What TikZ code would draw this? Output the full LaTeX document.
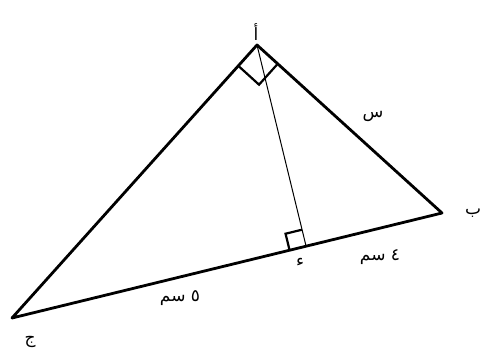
\documentclass[tikz,border=0pt]{standalone}
\usepackage{fontspec}
\newfontfamily\arabicfont[Script=Arabic]{DejaVu Sans}
\TeXXeTstate=1
\usetikzlibrary{calc}
\begin{document}
\begin{tikzpicture}[x=1pt,y=-1pt,
  side/.style={line width=2.8pt,line join=round,line cap=round},
  alt/.style={line width=1pt},
  rtmark/.style={line width=2.2pt,line join=miter},
  lbl/.style={font=\arabicfont\fontsize{17}{20}\selectfont,inner sep=0pt}]
\useasboundingbox (0,0) rectangle (486,356);
\coordinate (A) at (257,45);
\coordinate (B) at (442,213);
\coordinate (J) at (12,318);
\coordinate (D) at ($(J)!(A)!(B)$);
% right angle at A
\coordinate (A1) at ($(A)!28pt!(J)$);
\coordinate (A2) at ($(A)!28pt!(B)$);
\coordinate (A3) at ($(A1)+(A2)-(A)$);
\draw[rtmark] (A1) -- (A3) -- (A2);
% right angle at D
\coordinate (D1) at ($(D)!17pt!(J)$);
\coordinate (D2) at ($(D)!17pt!(A)$);
\coordinate (D3) at ($(D1)+(D2)-(D)$);
\draw[rtmark] (D1) -- (D3) -- (D2);
\draw[alt] (A) -- (D);
\draw[side] (A) -- (B) -- (J) -- cycle;
\node[lbl] (la) at (256,32) {\beginR أ\endR};
\node[lbl] (lb) at (473,213) {\beginR ب\endR};
\node[lbl] (lj) at (30,342) {\beginR ج\endR};
\node[lbl] (ld) at (300,262) {\beginR ء\endR};
\node[lbl] (ls) at (373,116) {\beginR س\endR};
\node[lbl] (l4) at (380,257) {\beginR ٤ سم\endR};
\node[lbl] (l5) at (180,298) {\beginR ٥ سم\endR};
\end{tikzpicture}
\end{document}
